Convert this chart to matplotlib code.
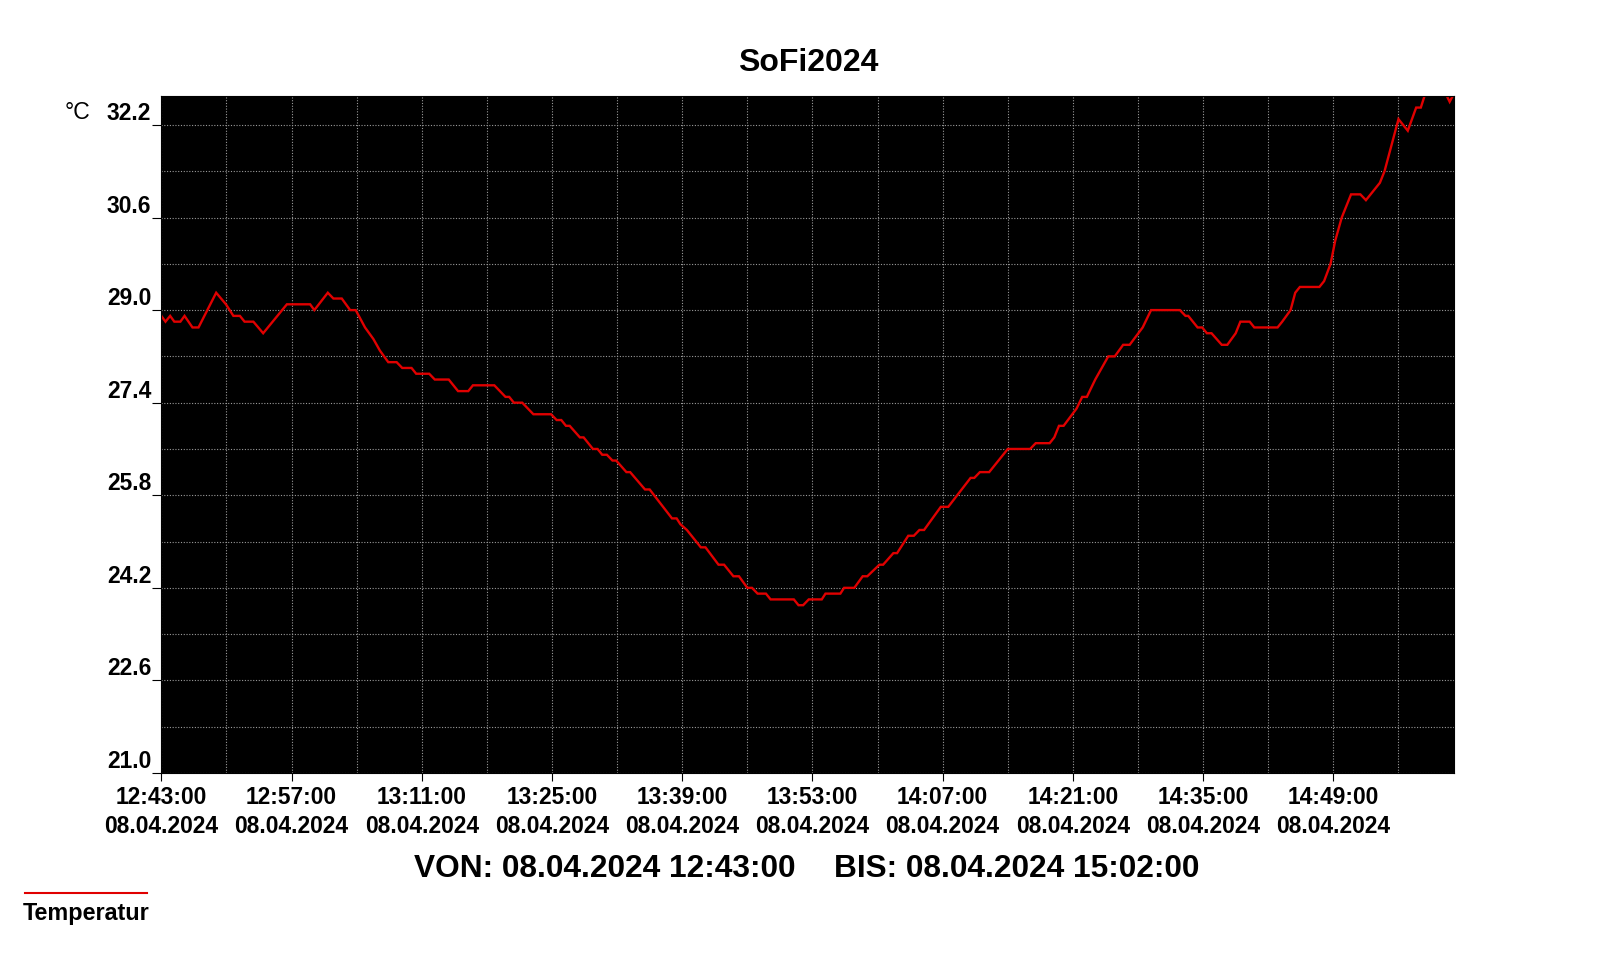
import matplotlib
matplotlib.use("Agg")
import matplotlib.pyplot as plt
from matplotlib.ticker import FixedLocator
from matplotlib.lines import Line2D

# ---------------- data ----------------
title = "SoFi2024"
series_name = "Temperatur"
unit = "°C"
start_label = "VON: 08.04.2024 12:43:00"
end_label = "BIS: 08.04.2024 15:02:00"

# minutes after 08.04.2024 12:43:00
minutes = [
    0.0, 0.45, 0.95, 1.4, 2.05, 2.5, 3.35, 4.0, 5.9, 6.95, 7.75, 8.45, 8.95, 9.9,
    10.95, 13.5, 16.0, 16.45, 17.9, 18.5, 19.4, 20.3, 20.9, 21.9, 22.8, 23.5,
    24.4, 25.3, 25.9, 26.9, 27.4, 28.8, 29.4, 30.9, 31.9, 33.0, 33.5, 35.8,
    37.0, 37.4, 37.9, 38.8, 40.0, 41.9, 42.5, 43.0, 43.5, 43.9, 45.0, 45.4,
    46.4, 46.9, 47.4, 47.9, 48.5, 48.9, 50.0, 50.4, 52.0, 52.5, 54.9, 55.4,
    55.8, 56.5, 58.0, 58.5, 59.9, 60.5, 61.5, 62.1, 63.0, 63.5, 64.1, 65.0,
    65.5, 68.0, 68.5, 69.0, 69.6, 71.0, 71.4, 73.0, 73.4, 74.5, 75.4, 75.9,
    77.2, 77.6, 78.7, 79.1, 80.3, 80.9, 81.5, 82.0, 83.8, 84.6, 87.0, 87.4,
    88.0, 89.0, 91.0, 93.4, 94.0, 95.5, 96.0, 96.5, 97.0, 98.4, 99.0, 99.5,
    100.4, 101.1, 101.8, 102.5, 103.4, 104.1, 105.5, 106.4, 109.5, 110.1,
    110.4, 111.4, 111.9, 112.4, 112.9, 114.0, 114.6, 115.5, 116.0, 117.0,
    117.5, 120.0, 120.5, 121.4, 121.9, 122.4, 124.5, 125.0, 125.7, 126.2,
    126.9, 127.9, 128.9, 129.5, 131.0, 131.5, 133.0, 134.0, 134.9, 135.4,
    136.0, 137.9, 138.5, 139.0,
]
temperature = [
    28.9, 28.8, 28.9, 28.8, 28.8, 28.9, 28.7, 28.7, 29.3, 29.1, 28.9, 28.9, 28.8, 28.8,
    28.6, 29.1, 29.1, 29.0, 29.3, 29.2, 29.2, 29.0, 29.0, 28.7, 28.5, 28.3,
    28.1, 28.1, 28.0, 28.0, 27.9, 27.9, 27.8, 27.8, 27.6, 27.6, 27.7, 27.7,
    27.5, 27.5, 27.4, 27.4, 27.2, 27.2, 27.1, 27.1, 27.0, 27.0, 26.8, 26.8,
    26.6, 26.6, 26.5, 26.5, 26.4, 26.4, 26.2, 26.2, 25.9, 25.9, 25.4, 25.4,
    25.3, 25.2, 24.9, 24.9, 24.6, 24.6, 24.4, 24.4, 24.2, 24.2, 24.1, 24.1,
    24.0, 24.0, 23.9, 23.9, 24.0, 24.0, 24.1, 24.1, 24.2, 24.2, 24.4, 24.4,
    24.6, 24.6, 24.8, 24.8, 25.1, 25.1, 25.2, 25.2, 25.6, 25.6, 26.1, 26.1,
    26.2, 26.2, 26.6, 26.6, 26.7, 26.7, 26.8, 27.0, 27.0, 27.3, 27.5, 27.5,
    27.8, 28.0, 28.2, 28.2, 28.4, 28.4, 28.7, 29.0, 29.0, 28.9,
    28.9, 28.7, 28.7, 28.6, 28.6, 28.4, 28.4, 28.6, 28.8, 28.8,
    28.7, 28.7, 28.8, 29.0, 29.3, 29.4, 29.4, 29.5, 29.8, 30.2,
    30.6, 31.0, 31.0, 30.9, 31.2, 31.4, 32.3, 32.1, 32.5, 32.5,
    32.8, 32.8, 32.6, 32.75,
]

x_ticks = [0, 14, 28, 42, 56, 70, 84, 98, 112, 126]
x_tick_labels = [
    "12:43:00\n08.04.2024", "12:57:00\n08.04.2024", "13:11:00\n08.04.2024",
    "13:25:00\n08.04.2024", "13:39:00\n08.04.2024", "13:53:00\n08.04.2024",
    "14:07:00\n08.04.2024", "14:21:00\n08.04.2024", "14:35:00\n08.04.2024",
    "14:49:00\n08.04.2024",
]
x_minor = [7, 21, 35, 49, 63, 77, 91, 105, 119, 133]
y_ticks = [21.0, 22.6, 24.2, 25.8, 27.4, 29.0, 30.6, 32.2]
y_tick_labels = ["21.0", "22.6", "24.2", "25.8", "27.4", "29.0", "30.6", "32.2"]
y_minor = [21.8, 23.4, 25.0, 26.6, 28.2, 29.8, 31.4]
x_range = (0, 139)
y_range = (21.0, 32.7)

# ---------------- style ----------------
W, H = 1616, 967
plt.rcParams['font.family'] = ['Liberation Sans', 'DejaVu Sans']
LINE_RED = '#e00000'

fig = plt.figure(figsize=(W / 100, H / 100), dpi=100)
fig.patch.set_facecolor('white')

def fx(px):
    return px / W

def fy(py):
    return 1 - py / H

ax = fig.add_axes([fx(161.3), fy(773), fx(1454.3) - fx(161.3), fy(96) - fy(773)])
ax.set_facecolor('black')

ax.plot(minutes, temperature, color=LINE_RED, lw=1.7, solid_joinstyle='miter')

ax.set_xlim(*x_range)
ax.set_ylim(*y_range)

ax.xaxis.set_major_locator(FixedLocator(x_ticks))
ax.xaxis.set_minor_locator(FixedLocator(x_minor))
ax.yaxis.set_major_locator(FixedLocator(y_ticks))
ax.yaxis.set_minor_locator(FixedLocator(y_minor))
ax.set_xticklabels(x_tick_labels, fontsize=16.4, fontweight='bold', linespacing=1.32)
ax.set_yticklabels(y_tick_labels, fontsize=16.4, fontweight='bold', va='bottom')

ax.tick_params(axis='x', which='major', length=6, width=0.8, pad=3.5, color='black')
ax.tick_params(axis='y', which='major', length=6.5, width=0.8, pad=0.8, color='black')
ax.tick_params(which='minor', length=0)

grid_kw = dict(color='#9a9a9a', lw=0.8, linestyle=(0, (1, 1.5)))
ax.grid(True, which='both', **grid_kw)

for s in ax.spines.values():
    s.set_color('black')
    s.set_linewidth(0.8)

# texts
fig.text(fx(808), fy(71), title, ha='center', va='baseline', fontsize=23, fontweight='bold')
fig.text(fx(65), fy(119), unit, ha='left', va='baseline', fontsize=16.6)
fig.text(fx(414), fy(877), start_label, ha='left', va='baseline', fontsize=22.8, fontweight='bold')
fig.text(fx(834), fy(877), end_label, ha='left', va='baseline', fontsize=22.8, fontweight='bold')

# legend
fig.add_artist(Line2D([fx(25), fx(147)], [fy(893), fy(893)], color=LINE_RED, lw=1.5,
                      transform=fig.transFigure))
fig.text(fx(23), fy(920), series_name, ha='left', va='baseline', fontsize=16.8, fontweight='bold')

fig.savefig('out.png', dpi=100, facecolor='white')
